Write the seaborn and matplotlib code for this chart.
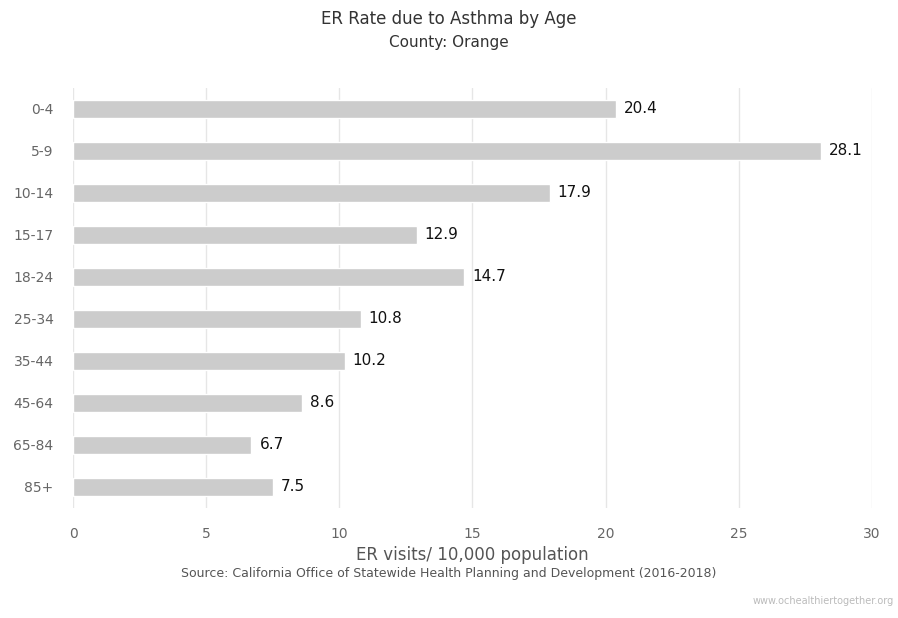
import matplotlib
matplotlib.use('Agg')
import matplotlib.pyplot as plt
import seaborn as sns
import pandas as pd

# data
age_groups = ['0-4', '5-9', '10-14', '15-17', '18-24', '25-34', '35-44', '45-64', '65-84', '85+']
er_rates = [20.4, 28.1, 17.9, 12.9, 14.7, 10.8, 10.2, 8.6, 6.7, 7.5]
x_ticks = [0, 5, 10, 15, 20, 25, 30]

df = pd.DataFrame({'age': age_groups, 'rate': er_rates})

sns.set_theme(style='white')
plt.rcParams['font.family'] = ['DejaVu Sans']

fig = plt.figure(figsize=(8.98, 6.18), dpi=100)
ax = fig.add_axes([0.0813, 0.178, 0.8897, 0.68])

sns.barplot(data=df, x='rate', y='age', color='#cccccc', width=0.42,
            saturation=1, ax=ax, zorder=3)

for i, v in enumerate(er_rates):
    ax.text(v + 0.3, i, f'{v}', va='center', ha='left', fontsize=11, color='#111111')

ax.set_xlim(0, 30)
ax.set_xticks(x_ticks)
ax.set_xticklabels([str(t) for t in x_ticks])
ax.grid(axis='x', color='#e6e6e6', linewidth=1, zorder=0)
for s in ax.spines.values():
    s.set_visible(False)
ax.tick_params(axis='both', length=0, labelsize=10, colors='#666666')
ax.tick_params(axis='y', pad=14)
ax.tick_params(axis='x', pad=14)
ax.set_ylabel('')
ax.set_xlabel('ER visits/ 10,000 population', fontsize=12, color='#555555', labelpad=3)

fig.text(0.5, 0.97, 'ER Rate due to Asthma by Age', ha='center', va='center',
         fontsize=12, color='#333333')
fig.text(0.5, 0.932, 'County: Orange', ha='center', va='center',
         fontsize=11, color='#333333')
fig.text(0.5, 0.072, 'Source: California Office of Statewide Health Planning and Development (2016-2018)',
         ha='center', va='center', fontsize=9, color='#555555')
fig.text(0.995, 0.027, 'www.ochealthiertogether.org', ha='right', va='center',
         fontsize=7, color='#bbbbbb')

fig.savefig('out.png', dpi=100)
